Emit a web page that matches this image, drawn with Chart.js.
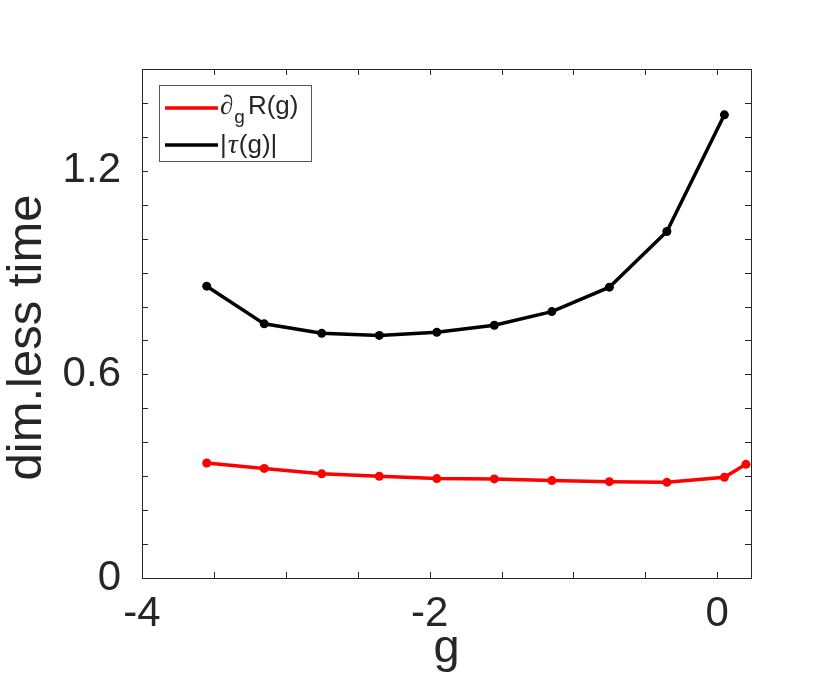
<!DOCTYPE html>
<html>
<head>
<meta charset="utf-8">
<script src="https://cdn.jsdelivr.net/npm/chart.js@4.4.0/dist/chart.umd.min.js"></script>
<style>
  body { margin: 0; background: #fff; }
  #wrap { width: 830px; height: 679px; }
</style>
</head>
<body>
<div id="wrap"><canvas id="chart1"></canvas></div>
<script>
// data
var gVals = [-3.55, -3.15, -2.75, -2.35, -1.95, -1.55, -1.15, -0.75, -0.35, 0.05, 0.2];
var dRdg = [0.339, 0.323, 0.307, 0.300, 0.293, 0.292, 0.287, 0.284, 0.282, 0.297, 0.335];
var tauAbs = [0.860, 0.749, 0.721, 0.715, 0.724, 0.745, 0.785, 0.857, 1.021, 1.365];

// tick positions and labels
var xTicks = [-4, -3.5, -3, -2.5, -2, -1.5, -1, -0.5, 0];
var xTickLabels = ['-4', '', '', '', '-2', '', '', '', '0'];
var yTicks = [0, 0.1, 0.2, 0.3, 0.4, 0.5, 0.6, 0.7, 0.8, 0.9, 1.0, 1.1, 1.2, 1.3, 1.4, 1.5];
var yTickLabels = ['0', '', '', '', '', '', '0.6', '', '', '', '', '', '1.2', '', '', ''];

var xTitle = 'g';
var yTitle = 'dim.less time';
// legend rows, text split in pieces so the subscript and italic tau can be drawn
var legendRows = [
    { color: 'rgb(255, 0, 0)', parts: [['∂', 'sym'], ['g', 'sub'], ['R(g)', 'n']] },
    { color: 'rgb(0, 0, 0)', parts: [['|', 'n'], ['τ', 'it'], ['(g)|', 'n']] }
];

var axisColor = '#262626';
var fontFam = '"Liberation Sans", Arial, Helvetica, sans-serif';

function toPts(xs, ys) {
    var out = [];
    for (var i = 0; i < ys.length; i++) out.push({ x: xs[i], y: ys[i] });
    return out;
}

// box round the axes with inward ticks on all four sides, plus the y title
var boxPlugin = {
    id: 'box',
    afterDraw: function (chart) {
        var ctx = chart.ctx;
        var a = chart.chartArea;
        var xs = chart.scales.x, ys = chart.scales.y;
        var len = 6;
        ctx.save();
        ctx.strokeStyle = axisColor;
        ctx.lineWidth = 1;
        ctx.beginPath();
        for (var i = 0; i < xTicks.length; i++) {
            var px = Math.round(xs.getPixelForValue(xTicks[i])) + 0.5;
            ctx.moveTo(px, a.bottom); ctx.lineTo(px, a.bottom - len);
            ctx.moveTo(px, a.top); ctx.lineTo(px, a.top + len);
        }
        for (var j = 0; j < yTicks.length; j++) {
            var py = Math.round(ys.getPixelForValue(yTicks[j])) + 0.5;
            ctx.moveTo(a.left, py); ctx.lineTo(a.left + len, py);
            ctx.moveTo(a.right, py); ctx.lineTo(a.right - len, py);
        }
        ctx.stroke();
        ctx.strokeRect(Math.round(a.left) + 0.5, Math.round(a.top) + 0.5,
            Math.round(a.right - a.left), Math.round(a.bottom - a.top));

        // y title, matlab puts it a bit below the axis middle
        ctx.translate(27, (a.top + a.bottom) / 2 + 14);
        ctx.rotate(-Math.PI / 2);
        ctx.fillStyle = axisColor;
        ctx.font = '49px ' + fontFam;
        ctx.textAlign = 'center';
        ctx.textBaseline = 'middle';
        ctx.fillText(yTitle, 0, 0);
        ctx.restore();
    }
};

// legend with subscript and italic tau
var legendPlugin = {
    id: 'texLegend',
    afterDraw: function (chart) {
        var ctx = chart.ctx;
        var a = chart.chartArea;
        var bx = a.left + 17, by = a.top + 16, bw = 152, bh = 76;
        ctx.save();
        ctx.fillStyle = '#fff';
        ctx.fillRect(bx, by, bw, bh);
        ctx.strokeStyle = '#555';
        ctx.lineWidth = 1;
        ctx.strokeRect(bx + 0.5, by + 0.5, bw, bh);
        for (var r = 0; r < legendRows.length; r++) {
            var row = legendRows[r];
            var ly = by + 23 + r * 37;
            ctx.strokeStyle = row.color;
            ctx.lineWidth = 3.5;
            ctx.beginPath();
            ctx.moveTo(bx + 6, ly);
            ctx.lineTo(bx + 59, ly);
            ctx.stroke();
            var tx = bx + 61;
            var base = ly + 6 + r * 2;
            ctx.fillStyle = axisColor;
            ctx.textBaseline = 'alphabetic';
            ctx.textAlign = 'left';
            for (var k = 0; k < row.parts.length; k++) {
                var txt = row.parts[k][0], kind = row.parts[k][1];
                var yy = base;
                if (kind === 'sym') ctx.font = 'italic 27px "Liberation Serif", serif';
                else if (kind === 'it') ctx.font = 'italic 28px "Liberation Serif", serif';
                else if (kind === 'sub') { ctx.font = '19px ' + fontFam; yy = base + 9; }
                else ctx.font = '26px ' + fontFam;
                ctx.fillText(txt, tx, yy);
                tx += ctx.measureText(txt).width + (kind === 'sub' ? 3 : 1);
            }
        }
        ctx.restore();
    }
};

const data = {
    datasets: [{
        label: '∂gR(g)',
        data: toPts(gVals, dRdg),
        borderColor: 'rgb(255, 0, 0)',
        backgroundColor: 'rgb(255, 0, 0)',
        borderWidth: 3.5,
        pointRadius: 4.5,
        pointBorderWidth: 0,
        tension: 0
    }, {
        label: '|τ(g)|',
        data: toPts(gVals, tauAbs),
        borderColor: 'rgb(0, 0, 0)',
        backgroundColor: 'rgb(0, 0, 0)',
        borderWidth: 3.5,
        pointRadius: 4.5,
        pointBorderWidth: 0,
        tension: 0
    }]
};

const config = {
    type: 'line',
    data: data,
    options: {
        responsive: true,
        maintainAspectRatio: false,
        animation: false,
        layout: { padding: { top: 69, right: 79, left: 0, bottom: 0 } },
        plugins: {
            legend: { display: false },
            tooltip: { enabled: false }
        },
        scales: {
            x: {
                type: 'linear',
                min: -4,
                max: 0.235,
                afterBuildTicks: function (scale) {
                    scale.ticks = xTicks.map(function (v) { return { value: v }; });
                },
                afterFit: function (scale) { scale.height = 101; },
                grid: { display: false, drawTicks: false },
                border: { display: false },
                ticks: {
                    autoSkip: false,
                    maxRotation: 0,
                    padding: 11,
                    color: axisColor,
                    font: { family: fontFam, size: 42 },
                    callback: function (v, i) { return xTickLabels[i]; }
                },
                title: {
                    display: true,
                    text: xTitle,
                    color: axisColor,
                    font: { family: fontFam, size: 47 },
                    padding: { top: 0, bottom: 2 }
                }
            },
            y: {
                min: 0,
                max: 1.5,
                afterBuildTicks: function (scale) {
                    scale.ticks = yTicks.map(function (v) { return { value: v }; });
                },
                afterFit: function (scale) { scale.width = 142; },
                grid: { display: false, drawTicks: false },
                border: { display: false },
                ticks: {
                    autoSkip: false,
                    padding: 21,
                    color: axisColor,
                    font: { family: fontFam, size: 42 },
                    callback: function (v, i) { return yTickLabels[i]; }
                },
                title: { display: false }
            }
        }
    },
    plugins: [boxPlugin, legendPlugin]
};

const chart1 = new Chart(document.getElementById('chart1'), config);
</script>
</body>
</html>
